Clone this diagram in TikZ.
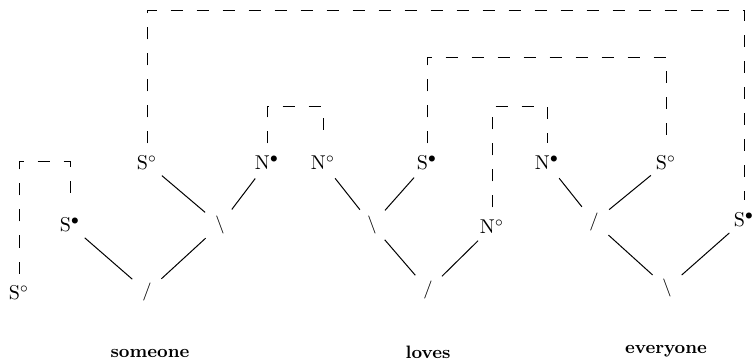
\documentclass[tikz,border=0pt]{standalone}
\usepackage{amsmath}
\usepackage{tikz}
\usetikzlibrary{positioning}

\begin{document}
\begin{tikzpicture}[x=0.5pt, y=-0.5pt, line width=0.5pt,
    every node/.style={circle, minimum size=19pt, inner sep=0pt},
    barra/.style={font=\small},
    palabra/.style={font=\small\bfseries, anchor=base},
    enlace/.style={dash pattern=on 6pt off 7pt}]
  \useasboundingbox (0,0) rectangle (754,363);
  % Nodos
  \node (so1) at (19,293) {S$^\circ$};
  \node (sb1) at (70,225) {S$^\bullet$};
  \node (so2) at (147,163) {S$^\circ$};
  \node (nb1) at (267,163) {N$^\bullet$};
  \node (no1) at (323,163) {N$^\circ$};
  \node (sb2) at (427,163) {S$^\bullet$};
  \node (no2) at (492,227) {N$^\circ$};
  \node (nb2) at (547,163) {N$^\bullet$};
  \node (so3) at (666,163) {S$^\circ$};
  \node (sb3) at (744,220) {S$^\bullet$};

  % Enlaces
  \node[barra] (t1) at (220,225) {$\backslash$};
  \node[barra] (t2) at (147,292) {$/$};
  \node[barra] (t3) at (372,225) {$\backslash$};
  \node[barra] (t4) at (428,290) {$/$};
  \node[barra] (t5) at (594,222) {$/$};
  \node[barra] (t6) at (667,288) {$\backslash$};

  % Palabras
  \node[palabra] (w1) at (150,357) {someone};
  \node[palabra] (w2) at (428,358) {loves};
  \node[palabra] (w3) at (666,353) {everyone};

  % Rieles
  \coordinate (r1) at (0,11);
  \coordinate (r2) at (0,58);
  \coordinate (r3) at (0,107);
  \coordinate (r4) at (0,162);

  % Aristas
  \draw (so2) -- (t1);
  \draw (nb1) -- (t1);
  \draw (t1) -- (t2);
  \draw (sb1) -- (t2);
  \draw (no1) -- (t3);
  \draw (sb2) -- (t3);
  \draw (t3) -- (t4);
  \draw (no2) -- (t4);
  \draw (nb2) -- (t5);
  \draw (so3) -- (t5);
  \draw (t5) -- (t6);
  \draw (sb3) -- (t6);

  % Ejes
  \draw[enlace] (so1) -- (so1 |- r4) -| (sb1);
  \draw[enlace] (so2) -- (so2 |- r1) -| (sb3);
  \draw[enlace] (sb2) -- (sb2 |- r2) -| (so3);
  \draw[enlace] (nb1) -- (nb1 |- r3) -| (no1);
  \draw[enlace] (no2) -- (no2 |- r3) -| (nb2);
\end{tikzpicture}
\end{document}
